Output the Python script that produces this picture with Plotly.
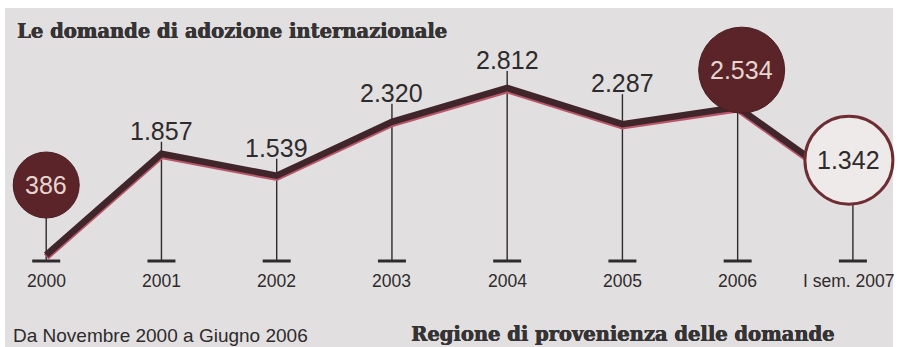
import plotly.graph_objects as go

# --- data ---------------------------------------------------------------
periods = ["2000", "2001", "2002", "2003", "2004", "2005", "2006", "I sem. 2007"]
requests = [386, 1857, 1539, 2320, 2812, 2287, 2534, 1342]
value_labels = ["386", "1.857", "1.539", "2.320", "2.812", "2.287", "2.534", "1.342"]

title_text = "Le domande di adozione internazionale"
note_text = "Da Novembre 2000 a Giugno 2006"
next_title_text = "Regione di provenienza delle domande"

# --- geometry / style ---------------------------------------------------
W, H = 899, 347
Y_MIN, Y_MAX = -950, 4090
SCALE = H / (Y_MAX - Y_MIN)          # pixels per request
X_RANGE = [-0.401, 7.40]

BASE_PX = 86                          # baseline ticks, pixels from bottom
YEAR_PX = 66                          # year labels, pixels from bottom

INK = "#2e2b2c"
HEAD_INK = "#363334"
LINE_DARK = "#40262a"
LINE_FRINGE = "#b9566a"
BUBBLE = "#5a2429"
PAPER_BG = "#e2dfe0"
HEAVY = f"0.6px 0 0 {HEAD_INK}, 0 0.4px 0 {HEAD_INK}"   # thickens the slab headings

# per-point label style: (kind, dx, dy, radius)  dy = pixels above the point
label_style = [
    ("bubble", 0, 70, 33),
    ("text", 0, 23, 0),
    ("text", 0, 28, 0),
    ("text", 0, 29, 0),
    ("text", 0, 28, 0),
    ("text", 0, 41, 0),
    ("bubble", 4, 37, 43),
    ("ring", -4, 29, 44),
]

x_idx = list(range(len(periods)))
base_value = Y_MIN + BASE_PX / SCALE

fig = go.Figure()

# reddish print fringe under the main line
fig.add_trace(go.Scatter(
    x=x_idx, y=[v - 1.8 / SCALE for v in requests], mode="lines",
    line=dict(color=LINE_FRINGE, width=7), hoverinfo="skip", showlegend=False,
))
fig.add_trace(go.Scatter(
    x=x_idx, y=requests, mode="lines",
    line=dict(color=LINE_DARK, width=6.5), hoverinfo="skip", showlegend=False,
))

shapes = [
    # newsprint sheet
    dict(type="rect", xref="paper", yref="paper", x0=5 / W, x1=893 / W,
         y0=0, y1=1 - 8 / H, fillcolor=PAPER_BG, line=dict(width=0), layer="below"),
]

annotations = []
for i, (v, lab, st) in enumerate(zip(requests, value_labels, label_style)):
    kind, dx, dy, r = st
    # stem from baseline up to the label
    top = v + (dy - 11) / SCALE if kind == "text" else v + dy / SCALE
    shapes.append(dict(type="line", xref="x", yref="y", x0=i, x1=i,
                       y0=base_value, y1=top, line=dict(color=INK, width=1.4),
                       layer="below"))
    # baseline tick bar
    shapes.append(dict(type="line", xref="x", yref="paper", xsizemode="pixel",
                       xanchor=i, x0=-14, x1=14, y0=BASE_PX / H, y1=BASE_PX / H,
                       line=dict(color=INK, width=3)))
    if kind in ("bubble", "ring"):
        shapes.append(dict(
            type="circle", xref="x", yref="y", xsizemode="pixel", ysizemode="pixel",
            xanchor=i, yanchor=v, x0=dx - r, x1=dx + r, y0=dy - r, y1=dy + r,
            fillcolor=BUBBLE if kind == "bubble" else "#eeeaea",
            line=dict(color="#4a1d22" if kind == "bubble" else "#6e2c33",
                      width=1 if kind == "bubble" else 3),
            layer="above",
        ))
        annotations.append(dict(
            x=i, y=v, xref="x", yref="y", text=lab, showarrow=False,
            xshift=dx, yshift=dy, xanchor="center", yanchor="middle",
            font=dict(family="Liberation Sans, Arial, sans-serif", size=25,
                      color="#e6d6cf" if kind == "bubble" else INK),
        ))
    else:
        annotations.append(dict(
            x=i, y=v, xref="x", yref="y", text=lab, showarrow=False,
            xshift=dx, yshift=dy, xanchor="center", yanchor="middle",
            font=dict(family="Liberation Sans, Arial, sans-serif", size=25, color=INK),
        ))
    # period label under the baseline
    annotations.append(dict(
        x=i, y=YEAR_PX / H, xref="x", yref="paper", text=periods[i], showarrow=False,
        xanchor="center", yanchor="middle",
        xshift=-4 if i == len(periods) - 1 else 0,
        font=dict(family="Liberation Sans, Arial, sans-serif", size=17.5, color=INK),
    ))

annotations += [
    dict(x=15 / W, y=1 - 32 / H, xref="paper", yref="paper", text=f"<b>{title_text}</b>",
         showarrow=False, xanchor="left", yanchor="middle",
         font=dict(family="DejaVu Serif, serif", size=19.5, color=HEAD_INK, shadow=HEAVY)),
    dict(x=12 / W, y=0, xref="paper", yref="paper", text=note_text,
         showarrow=False, xanchor="left", yanchor="bottom", borderpad=0,
         font=dict(family="Liberation Sans, Arial, sans-serif", size=19, color=INK)),
    dict(x=410 / W, y=0, xref="paper", yref="paper", text=f"<b>{next_title_text}</b>",
         showarrow=False, xanchor="left", yanchor="bottom", borderpad=0,
         font=dict(family="DejaVu Serif, serif", size=19.5, color=HEAD_INK, shadow=HEAVY)),
]

fig.update_layout(
    width=W, height=H, margin=dict(l=0, r=0, t=0, b=0),
    paper_bgcolor="white", plot_bgcolor="rgba(0,0,0,0)",
    xaxis=dict(range=X_RANGE, visible=False, fixedrange=True),
    yaxis=dict(range=[Y_MIN, Y_MAX], visible=False, fixedrange=True),
    shapes=shapes, annotations=annotations, showlegend=False,
)

fig.write_html("out.html", include_plotlyjs=True, config={"displayModeBar": False})
